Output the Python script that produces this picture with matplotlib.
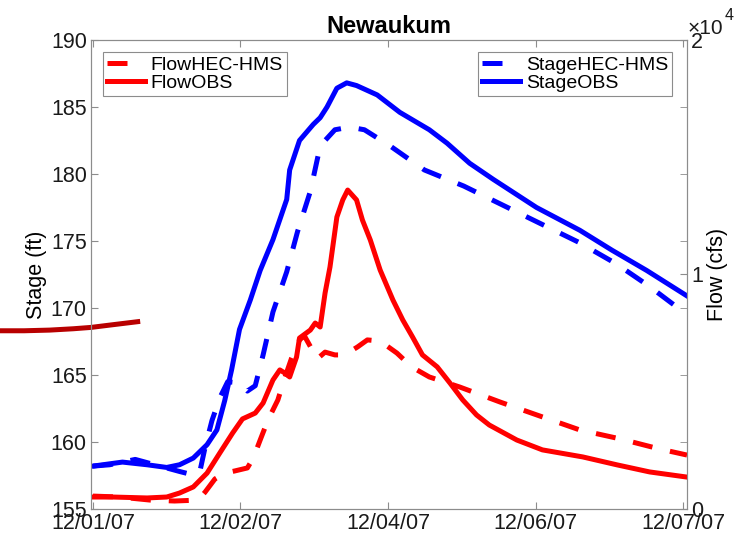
import matplotlib
matplotlib.use('Agg')
import matplotlib.pyplot as plt
import numpy as np

plt.rcParams.update({
    'font.family': ['Liberation Sans', 'DejaVu Sans'],
    'font.size': 15,
    'axes.edgecolor': '#8c8c8c',
    'xtick.color': '#8c8c8c',
    'ytick.color': '#8c8c8c',
    'xtick.labelcolor': '#1a1a1a',
    'ytick.labelcolor': '#1a1a1a',
    'lines.solid_joinstyle': 'round',
    'lines.dash_joinstyle': 'round',
})

STAGE_COLOR = '#0000ff'
FLOW_COLOR = '#ff0000'
ODD_COLOR = '#b80000'
LW = 3.6
DASH = (4, 3.6)

# days since 12/01/07
stage_obs_t = [0, 0.30, 0.55, 0.75, 0.88, 1.02, 1.16, 1.26, 1.34, 1.41, 1.49, 1.60, 1.70,
               1.83, 1.97, 2.00, 2.10, 2.24, 2.31, 2.38, 2.48, 2.58, 2.68, 2.89, 3.12,
               3.42, 3.60, 3.83, 4.07, 4.51, 4.95, 5.28, 5.63, 6.04]
stage_obs = [158.2, 158.5, 158.3, 158.1, 158.3, 158.8, 159.8, 160.9, 163.1, 165.4, 168.4,
             170.6, 172.8, 175.1, 178.1, 180.3, 182.5, 183.7, 184.2, 185.0, 186.4, 186.8,
             186.6, 185.9, 184.6, 183.3, 182.3, 180.8, 179.6, 177.5, 175.8, 174.3, 172.8,
             170.9]

stage_hms_t = [0, 0.17, 0.43, 0.58, 0.73, 0.88, 1.04, 1.09, 1.14, 1.21, 1.29, 1.37, 1.49,
               1.57, 1.65, 1.73, 1.83, 1.97, 2.08, 2.21, 2.29, 2.36, 2.46, 2.61, 2.76,
               3.02, 3.37, 3.77, 4.16, 4.55, 4.94, 5.32, 5.66, 6.04]
stage_hms = [158.2, 158.3, 158.7, 158.4, 158.1, 157.8, 157.5, 157.9, 159.6, 161.6, 163.3,
             164.5, 164.4, 163.8, 164.2, 166.5, 169.7, 172.7, 175.7, 178.7, 181.4, 182.5,
             183.3, 183.5, 183.3, 182.1, 180.3, 179.1, 177.7, 176.3, 174.9, 173.3, 171.6,
             169.5]

flow_obs_t = [0, 0.20, 0.55, 0.75, 0.88, 1.02, 1.16, 1.29, 1.42, 1.52, 1.65, 1.73, 1.83,
              1.90, 1.95, 2.00, 2.07, 2.10, 2.21, 2.26, 2.31, 2.36, 2.41, 2.48, 2.54, 2.59,
              2.68, 2.74, 2.82, 2.92, 3.05, 3.15, 3.25, 3.35, 3.50, 3.63, 3.76, 3.90, 4.03,
              4.31, 4.57, 4.98, 5.33, 5.66, 6.04]
flow_obs = [510, 510, 470, 510, 680, 940, 1530, 2390, 3240, 3840, 4090, 4520, 5500, 5930,
            5800, 5630, 6480, 7290, 7630, 7930, 7760, 9210, 10320, 12450, 13180, 13600,
            13180, 12320, 11470, 10190, 8910, 8060, 7330, 6570, 6060, 5370, 4650, 4010,
            3580, 2940, 2520, 2220, 1880, 1580, 1360]

flow_hms_t = [0, 0.27, 0.58, 0.83, 1.07, 1.14, 1.24, 1.34, 1.44, 1.57, 1.63, 1.70, 1.78,
              1.88, 1.95, 2.02, 2.10, 2.15, 2.23, 2.28, 2.36, 2.46, 2.56, 2.69, 2.79, 2.92,
              3.09, 3.24, 3.42, 3.73, 4.14, 4.54, 4.95, 5.36, 5.76, 6.04]
flow_hms = [550, 510, 380, 340, 380, 720, 1280, 1530, 1620, 1750, 2170, 2940, 3800, 4650,
            5590, 6440, 7210, 7380, 6780, 6400, 6690, 6570, 6570, 6910, 7210, 7160, 6650,
            6060, 5630, 5200, 4560, 3970, 3370, 2990, 2560, 2300]

# stray dark red line left of the axes
odd_t = [-0.95, -0.7, -0.44, -0.2, -0.02, 0.2, 0.48]
odd_stage = [168.3, 168.3, 168.35, 168.45, 168.55, 168.75, 169.0]

date_ticks = [0, 1.5, 3, 4.5, 6]
date_labels = ['12/01/07', '12/02/07', '12/04/07', '12/06/07', '12/07/07']
stage_ticks = [155, 160, 165, 170, 175, 180, 185, 190]
flow_ticks = [0, 10000, 20000]
flow_labels = ['0', '1', '2']

fig = plt.figure(figsize=(7.38, 5.36), dpi=100)
ax = fig.add_axes([0.1233, 0.0504, 0.8076, 0.875])
ax2 = ax.twinx()

ax.plot(stage_hms_t, stage_hms, color=STAGE_COLOR, lw=LW, dashes=DASH, label='StageHEC-HMS')
ax.plot(stage_obs_t, stage_obs, color=STAGE_COLOR, lw=LW, label='StageOBS')
ax.plot(odd_t, odd_stage, color=ODD_COLOR, lw=LW, clip_on=False, solid_capstyle='butt')

ax2.plot(flow_hms_t, flow_hms, color=FLOW_COLOR, lw=LW, dashes=DASH, label='FlowHEC-HMS')
ax2.plot(flow_obs_t, flow_obs, color=FLOW_COLOR, lw=LW, label='FlowOBS')

ax.set_xlim(-0.02, 6.04)
ax.set_ylim(155, 190)
ax.set_xticks(date_ticks)
ax.set_xticklabels(date_labels)
ax.set_yticks(stage_ticks)
ax.set_ylabel('Stage (ft)', labelpad=3, fontsize=15.5)
ax.tick_params(direction='in', length=5, top=True, right=False, labelsize=15.5, pad=3)

ax2.set_ylim(0, 20000)
ax2.set_yticks(flow_ticks)
ax2.set_yticklabels(flow_labels)
minor_flow = [(s - 155) / 35 * 20000 for s in stage_ticks]
ax2.set_yticks(minor_flow, minor=True)
ax2.tick_params(which='both', direction='in', length=5, labelsize=15.5, pad=3)
ax2.set_ylabel('Flow (cfs)', labelpad=3, fontsize=15.5)

# exponent label of the flow axis
fig.text(688 / 738, 1 - 34 / 536, '\u00d710', fontsize=15, ha='left', va='baseline',
         color='#1a1a1a')
fig.text(725 / 738, 1 - 20 / 536, '4', fontsize=11.5, ha='left', va='baseline',
         color='#1a1a1a')

for a in (ax, ax2):
    for s in a.spines.values():
        s.set_color('#8c8c8c')

ax.set_title('Newaukum', fontsize=17, fontweight='bold', pad=5)

leg_kw = dict(fontsize=14, frameon=True, fancybox=False, framealpha=1, edgecolor='#8c8c8c',
              handlelength=1.95, handletextpad=0.3, labelspacing=0.05, borderpad=0.2,
              borderaxespad=0)
leg2 = ax2.legend(loc='upper left', bbox_to_anchor=(0.02, 0.974), **leg_kw)
leg2.get_frame().set_linewidth(0.8)
leg1 = ax.legend(loc='upper right', bbox_to_anchor=(0.975, 0.974), **leg_kw)
leg1.get_frame().set_linewidth(0.8)

fig.savefig('out.png', dpi=100)
